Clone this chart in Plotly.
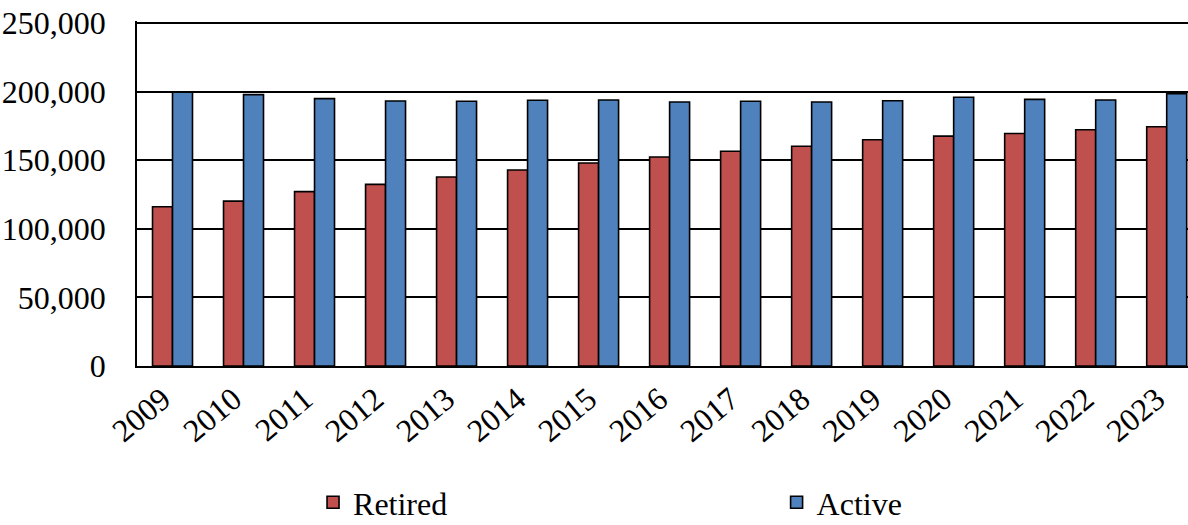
import plotly.graph_objects as go

years = ["2009", "2010", "2011", "2012", "2013", "2014", "2015", "2016",
         "2017", "2018", "2019", "2020", "2021", "2022", "2023"]
retired = [116100, 120200, 127100, 132400, 137800, 142900, 148000, 152400,
           156600, 160200, 164900, 167600, 169500, 172200, 174400]
active = [199600, 197800, 194900, 193200, 193000, 193700, 193900, 192500,
          193000, 192500, 193400, 195900, 194400, 193900, 198500]
y_ticks = [0, 50000, 100000, 150000, 200000, 250000]
y_tick_labels = ["0", "50,000", "100,000", "150,000", "200,000", "250,000"]

FONT = "Liberation Serif, Times New Roman, serif"

fig = go.Figure()
fig.add_trace(go.Bar(
    x=years, y=retired, name="Retired",
    marker=dict(color="#C0504D", line=dict(color="black", width=1.6)),
    legend="legend",
))
fig.add_trace(go.Bar(
    x=years, y=active, name="Active",
    marker=dict(color="#4F81BD", line=dict(color="black", width=1.6)),
    legend="legend2",
))

fig.update_layout(
    width=1188, height=525,
    margin=dict(l=137, r=0, t=21, b=159, autoexpand=False),
    paper_bgcolor="white", plot_bgcolor="white",
    font=dict(family=FONT, color="black", size=32),
    barmode="group", bargap=0.437, bargroupgap=0,
    legend=dict(orientation="h", xref="container", yref="paper",
                x=0.2635, y=-0.4754, xanchor="left", yanchor="bottom",
                itemwidth=30,
                font=dict(size=32, family=FONT), bgcolor="rgba(0,0,0,0)"),
    legend2=dict(orientation="h", xref="container", yref="paper",
                 x=0.6537, y=-0.4754, xanchor="left", yanchor="bottom",
                 itemwidth=30,
                 font=dict(size=32, family=FONT), bgcolor="rgba(0,0,0,0)"),
    showlegend=True,
)
fig.update_xaxes(
    type="category", range=[-0.5, 14.30], automargin=False,
    showline=True, linecolor="black", linewidth=1.5,
    showgrid=False, ticks="", tickangle=-40, ticklabelshift=-10,
    tickfont=dict(size=32, family=FONT),
)
fig.update_yaxes(
    range=[0, 251500], tickvals=y_ticks, ticktext=y_tick_labels,
    automargin=False, ticklabeloverflow="allow",
    showline=True, linecolor="black", linewidth=1.5,
    showgrid=True, gridcolor="black", gridwidth=1.5,
    zeroline=False, ticks="", ticklabelstandoff=23,
    tickfont=dict(size=32, family=FONT),
)

fig.write_html("out.html", config={"displayModeBar": False},
               post_script="document.body.style.margin='0';")
